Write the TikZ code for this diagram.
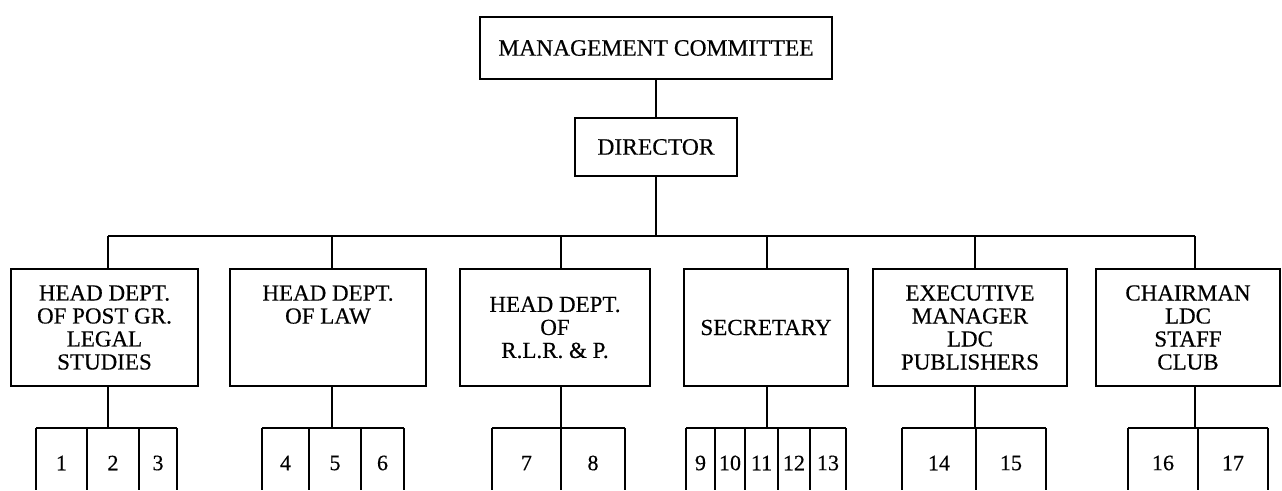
\documentclass[tikz,border=0pt]{standalone}
\usepackage{fontspec}
\setmainfont{Liberation Serif}[FakeBold=0.4]
\begin{document}
\begin{tikzpicture}[x=1pt,y=-1pt,line width=1.5pt,
  topbox/.style={draw,inner sep=0pt,font=\fontsize{23.5}{25}\selectfont},
  deptbox/.style={draw,inner sep=0pt,align=center,minimum height=117pt,font=\fontsize{23}{23}\selectfont},
  num/.style={inner sep=0pt,font=\fontsize{22}{22}\selectfont},
  conn/.style={line width=1.5pt}]
\useasboundingbox (0,0) rectangle (1282,490);
% top
\node[topbox,minimum width=352pt,minimum height=62pt] (mc) at (656,48) {MANAGEMENT COMMITTEE};
\node[topbox,minimum width=162pt,minimum height=58pt] (dir) at (656,147) {DIRECTOR};
\draw[conn] (mc.south) -- (dir.north);
\coordinate (bus) at (656,236);
\draw[conn] (dir.south) -- (bus);
% departments
\node[deptbox,minimum width=187pt] (d1) at (104.5,327.5) {HEAD DEPT.\\OF POST GR.\\LEGAL\\STUDIES};
\node[deptbox,minimum width=196pt] (d2) at (328,327.5) {HEAD DEPT.\\OF LAW\\\phantom{X}\\\phantom{X}};
\node[deptbox,minimum width=190pt] (d3) at (555,327.5) {HEAD DEPT.\\OF\\R.L.R. \& P.};
\node[deptbox,minimum width=164pt] (d4) at (766,327.5) {SECRETARY};
\node[deptbox,minimum width=194pt] (d5) at (970,327.5) {EXECUTIVE\\MANAGER\\LDC\\PUBLISHERS};
\node[deptbox,minimum width=184pt] (d6) at (1188,327.5) {CHAIRMAN\\LDC\\STAFF\\CLUB};
% bus taps
\coordinate (t1) at (108,236);
\coordinate (t2) at (332,236);
\coordinate (t3) at (561,236);
\coordinate (t4) at (767,236);
\coordinate (t5) at (975,236);
\coordinate (t6) at (1195,236);
\draw[conn] (t1) -- (t6);
\foreach \k in {1,...,6} \draw[conn] (t\k) -- (t\k |- d\k.north);
% lower taps
\coordinate (b1) at (108,428);
\coordinate (b2) at (332,428);
\coordinate (b3) at (561,428);
\coordinate (b4) at (767,428);
\coordinate (b5) at (975,428);
\coordinate (b6) at (1195,428);
\foreach \k in {1,...,6} \draw[conn] (b\k |- d\k.south) -- (b\k);
% cell groups
\draw[conn] (36,428) -- (177,428);
\foreach \x in {36,87,139,177} \draw[conn] (\x,428) -- (\x,490);
\draw[conn] (262,428) -- (404,428);
\foreach \x in {262,309,361,404} \draw[conn] (\x,428) -- (\x,490);
\draw[conn] (492,428) -- (625,428);
\foreach \x in {492,561,625} \draw[conn] (\x,428) -- (\x,490);
\draw[conn] (686,428) -- (846,428);
\foreach \x in {686,715,745,778,810,846} \draw[conn] (\x,428) -- (\x,490);
\draw[conn] (902,428) -- (1046,428);
\foreach \x in {902,976,1046} \draw[conn] (\x,428) -- (\x,490);
\draw[conn] (1128,428) -- (1268,428);
\foreach \x in {1128,1198,1268} \draw[conn] (\x,428) -- (\x,490);
% numbers
\node[num] (n1) at (61.5,463) {1};
\node[num] (n2) at (113,463) {2};
\node[num] (n3) at (158,463) {3};
\node[num] (n4) at (285.5,463) {4};
\node[num] (n5) at (335,463) {5};
\node[num] (n6) at (382.5,463) {6};
\node[num] (n7) at (526.5,463) {7};
\node[num] (n8) at (593,463) {8};
\node[num] (n9) at (700.5,463) {9};
\node[num] (n10) at (730,463) {10};
\node[num] (n11) at (761.5,463) {11};
\node[num] (n12) at (794,463) {12};
\node[num] (n13) at (828,463) {13};
\node[num] (n14) at (939,463) {14};
\node[num] (n15) at (1011,463) {15};
\node[num] (n16) at (1163,463) {16};
\node[num] (n17) at (1233,463) {17};
\end{tikzpicture}
\end{document}
